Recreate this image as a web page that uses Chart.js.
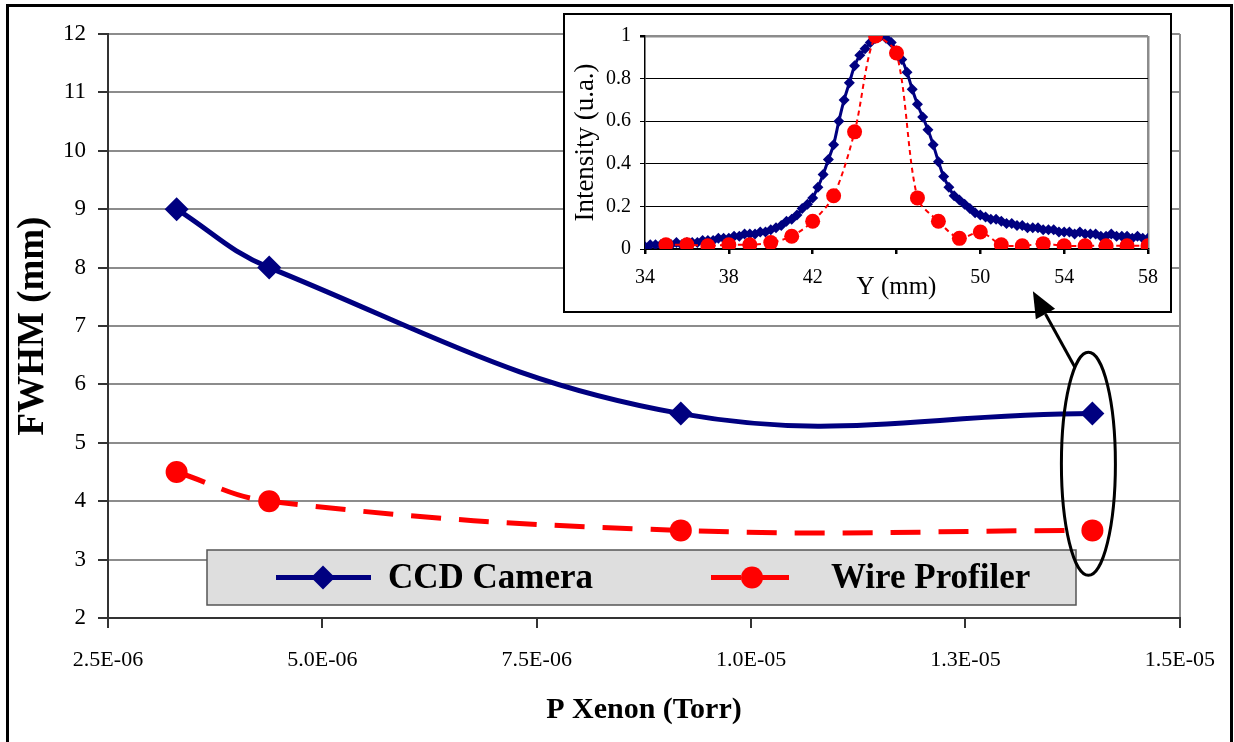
<!DOCTYPE html>
<html>
<head>
<meta charset="utf-8">
<script src="https://cdn.jsdelivr.net/npm/chart.js@4.4.1/dist/chart.umd.min.js"></script>
<style>
html, body { margin: 0; padding: 0; background: #fff; overflow: hidden; }
#wrap { position: relative; width: 1234px; height: 742px; }
#frame { position: absolute; left: 6px; top: 4px; width: 1227px; height: 760px; border: 3px solid #000; box-sizing: border-box; }
#main { position: absolute; left: 0; top: 0; }
#insetBox { position: absolute; left: 563px; top: 13px; width: 609px; height: 300px; border: 2px solid #000; background: #fff; box-sizing: border-box; }
#inset { position: absolute; left: 0; top: 0; }
#overlay { position: absolute; left: 0; top: 0; pointer-events: none; }
</style>
</head>
<body>
<div id="wrap">
  <div id="frame"></div>
  <canvas id="main" width="1234" height="742"></canvas>
  <div id="insetBox"><canvas id="inset" width="605" height="296"></canvas></div>
  <canvas id="overlay" width="1234" height="742"></canvas>
</div>
<script>
// main chart: FWHM vs xenon pressure
const pressure = [3.30e-6, 4.38e-6, 9.18e-6, 1.398e-5];
const ccdFwhm = [9.0, 8.0, 5.5, 5.5];
const wireFwhm = [4.5, 4.0, 3.5, 3.5];
const xTickValues = [2.5e-6, 5.0e-6, 7.5e-6, 1.0e-5, 1.25e-5, 1.5e-5];
const xTickLabels = ['2.5E-06', '5.0E-06', '7.5E-06', '1.0E-05', '1.3E-05', '1.5E-05'];
const yTickValues = [2, 3, 4, 5, 6, 7, 8, 9, 10, 11, 12];

// inset: beam profiles
const profCcdX = [34, 34.25, 34.5, 34.75, 35, 35.25, 35.5, 35.75, 36, 36.25, 36.5, 36.75,
  37, 37.25, 37.5, 37.75, 38, 38.25, 38.5, 38.75, 39, 39.25, 39.5, 39.75,
  40, 40.25, 40.5, 40.75, 41, 41.25, 41.5, 41.75, 42, 42.25, 42.5, 42.75,
  43, 43.25, 43.5, 43.75, 44, 44.25, 44.5, 44.75, 45, 45.25, 45.5, 45.75,
  46, 46.25, 46.5, 46.75, 47, 47.25, 47.5, 47.75, 48, 48.25, 48.5, 48.75,
  49, 49.25, 49.5, 49.75, 50, 50.25, 50.5, 50.75, 51, 51.25, 51.5, 51.75,
  52, 52.25, 52.5, 52.75, 53, 53.25, 53.5, 53.75, 54, 54.25, 54.5, 54.75,
  55, 55.25, 55.5, 55.75, 56, 56.25, 56.5, 56.75, 57, 57.25, 57.5, 57.75, 58];
const profCcdY = [0.01, 0.02, 0.02, 0.02, 0.02, 0.02, 0.03, 0.02, 0.03, 0.03, 0.03, 0.04,
  0.04, 0.04, 0.05, 0.05, 0.05, 0.06, 0.06, 0.07, 0.07, 0.07, 0.08, 0.08,
  0.09, 0.10, 0.11, 0.13, 0.14, 0.16, 0.19, 0.21, 0.24, 0.29, 0.35, 0.42,
  0.49, 0.60, 0.70, 0.78, 0.86, 0.91, 0.94, 0.97, 0.99, 1.00, 0.99, 0.97,
  0.93, 0.89, 0.83, 0.75, 0.68, 0.62, 0.56, 0.49, 0.41, 0.34, 0.29, 0.25,
  0.23, 0.21, 0.19, 0.17, 0.16, 0.15, 0.14, 0.14, 0.13, 0.12, 0.12, 0.11,
  0.11, 0.10, 0.10, 0.10, 0.09, 0.09, 0.09, 0.08, 0.08, 0.08, 0.07, 0.08,
  0.07, 0.07, 0.07, 0.06, 0.06, 0.07, 0.06, 0.06, 0.06, 0.05, 0.06, 0.05, 0.05];
const profWireX = [35, 36, 37, 38, 39, 40, 41, 42, 43, 44, 45, 46, 47, 48, 49, 50, 51, 52, 53, 54, 55, 56, 57, 58];
const profWireY = [0.02, 0.02, 0.015, 0.02, 0.02, 0.03, 0.06, 0.13, 0.25, 0.55, 1.0, 0.92,
  0.24, 0.13, 0.05, 0.08, 0.02, 0.015, 0.025, 0.015, 0.015, 0.015, 0.015, 0.015];
const insetXTicks = [34, 38, 42, 46, 50, 54, 58];
const insetXLabels = ['34', '38', '42', '', '50', '54', '58'];
const insetYTicks = [0, 0.2, 0.4, 0.6, 0.8, 1];
const insetYLabels = ['0', '0.2', '0.4', '0.6', '0.8', '1'];

const serif = "'Liberation Serif', 'Times New Roman', serif";
const NAVY = '#000080';
const RED = '#ff0000';
const GRID_GRAY = '#8c8c8c';

const toPts = (xs, ys) => xs.map((x, i) => ({ x: x, y: ys[i] }));

// inset chart first
new Chart(document.getElementById('inset'), {
    type: 'line',
    data: {
        datasets: [{
            data: toPts(profWireX, profWireY),
            borderColor: RED,
            backgroundColor: RED,
            borderWidth: 2,
            borderDash: [5, 4],
            pointStyle: 'circle',
            pointRadius: 7.5,
            pointBorderWidth: 0,
            tension: 0.3,
            order: 1
        }, {
            data: toPts(profCcdX, profCcdY),
            borderColor: NAVY,
            backgroundColor: NAVY,
            borderWidth: 3,
            pointStyle: 'rectRot',
            pointRadius: 5.5,
            pointBorderWidth: 0,
            tension: 0.3,
            order: 2
        }]
    },
    options: {
        responsive: false,
        animation: false,
        layout: { padding: { left: 0, top: 21, right: 15, bottom: 0 } },
        plugins: { legend: { display: false }, tooltip: { enabled: false } },
        scales: {
            x: {
                type: 'linear', min: 34, max: 58,
                afterBuildTicks: s => { s.ticks = insetXTicks.map(v => ({ value: v })); },
                afterFit: s => { s.height = 62; },
                ticks: {
                    callback: (v, i) => insetXLabels[i],
                    color: '#000', font: { family: serif, size: 20 }, padding: 12,
                    maxRotation: 0, autoSkip: false
                },
                grid: {
                    color: c => c.index === insetXTicks.length - 1 ? GRID_GRAY : 'rgba(0,0,0,0)',
                    lineWidth: 2.5, tickLength: 5, tickColor: '#000'
                },
                border: { color: '#000', width: 1.5 },
                title: {
                    display: true, text: 'Y (mm)', color: '#000',
                    font: { family: serif, size: 25 }, padding: { top: 0, bottom: 9 }
                }
            },
            y: {
                min: 0, max: 1,
                afterBuildTicks: s => { s.ticks = insetYTicks.map(v => ({ value: v })); },
                afterFit: s => { s.width = 80; },
                ticks: {
                    callback: (v, i) => insetYLabels[i],
                    color: '#000', font: { family: serif, size: 20 }, padding: 9
                },
                grid: {
                    color: c => c.index === insetYTicks.length - 1 ? GRID_GRAY : '#000',
                    lineWidth: c => c.index === insetYTicks.length - 1 ? 2.5 : 1,
                    tickLength: 5, tickColor: '#000'
                },
                border: { color: '#000', width: 1.5 },
                title: {
                    display: true, text: 'Intensity (u.a.)', color: '#000',
                    font: { family: serif, size: 27 }, padding: { top: 5, bottom: 0 }
                }
            }
        }
    }
});

// legend box sitting inside the plot
const legendBox = { x: 207, y: 550, w: 869, h: 55 };
const legendItems = [
    { text: 'CCD Camera', x0: 276, x1: 371, mark: 323, tx: 388 },
    { text: 'Wire Profiler', x0: 711, x1: 789, mark: 752, tx: 831 }
];

const boxLegend = {
    id: 'boxLegend',
    afterDraw(chart) {
        const ctx = chart.ctx;
        const b = legendBox;
        ctx.save();
        ctx.fillStyle = '#dedede';
        ctx.fillRect(b.x, b.y, b.w, b.h);
        ctx.strokeStyle = '#555';
        ctx.lineWidth = 1.5;
        ctx.strokeRect(b.x, b.y, b.w, b.h);
        const cy = b.y + b.h / 2;
        chart.data.datasets.forEach((ds, i) => {
            const it = legendItems[i];
            ctx.save();
            ctx.strokeStyle = ds.borderColor;
            ctx.lineWidth = ds.borderWidth;
            ctx.setLineDash(ds.borderDash || []);
            ctx.beginPath();
            ctx.moveTo(it.x0, cy);
            ctx.lineTo(it.x1, cy);
            ctx.stroke();
            ctx.restore();
            ctx.fillStyle = ds.backgroundColor;
            Chart.helpers.drawPoint(ctx, {
                pointStyle: ds.pointStyle, radius: ds.pointRadius, rotation: 0, borderWidth: 0
            }, it.mark, cy);
            ctx.fillStyle = '#000';
            ctx.font = 'bold 35px ' + serif;
            ctx.textBaseline = 'middle';
            ctx.textAlign = 'left';
            ctx.fillText(it.text, it.tx, cy + 1);
        });
        ctx.restore();
    }
};

// ellipse round the last points and arrow to the inset
const annot = {
    id: 'annot',
    afterDraw(chart) {
        const ctx = document.getElementById('overlay').getContext('2d');
        ctx.clearRect(0, 0, 1234, 742);
        const xs = chart.scales.x, ys = chart.scales.y;
        const cx = xs.getPixelForValue(pressure[pressure.length - 1]) - 4;
        const top = ys.getPixelForValue(6.55), bot = ys.getPixelForValue(2.73);
        const cy = (top + bot) / 2, ry = (bot - top) / 2, rx = 27;
        ctx.strokeStyle = '#000';
        ctx.fillStyle = '#000';
        ctx.lineWidth = 3;
        ctx.beginPath();
        ctx.ellipse(cx, cy, rx, ry, 0, 0, Math.PI * 2);
        ctx.stroke();

        const t = 240 * Math.PI / 180;
        const tx = cx + rx * Math.cos(t), ty = cy + ry * Math.sin(t);
        const hx = tx - 42, hy = ty - 76;
        const ang = Math.atan2(hy - ty, hx - tx);
        const len = 26, half = 11;
        const bx = hx - len * Math.cos(ang), by = hy - len * Math.sin(ang);
        ctx.beginPath();
        ctx.moveTo(tx, ty);
        ctx.lineTo(bx, by);
        ctx.stroke();
        ctx.beginPath();
        ctx.moveTo(hx, hy);
        ctx.lineTo(bx + half * Math.sin(ang), by - half * Math.cos(ang));
        ctx.lineTo(bx - half * Math.sin(ang), by + half * Math.cos(ang));
        ctx.closePath();
        ctx.fill();
    }
};

new Chart(document.getElementById('main'), {
    type: 'line',
    data: {
        datasets: [{
            label: 'CCD Camera',
            data: toPts(pressure, ccdFwhm),
            borderColor: NAVY,
            backgroundColor: NAVY,
            borderWidth: 5,
            pointStyle: 'rectRot',
            pointRadius: 12,
            pointBorderWidth: 0,
            tension: 0.4,
            order: 2
        }, {
            label: 'Wire Profiler',
            data: toPts(pressure, wireFwhm),
            borderColor: RED,
            backgroundColor: RED,
            borderWidth: 5,
            borderDash: [30, 18],
            pointStyle: 'circle',
            pointRadius: 11,
            pointBorderWidth: 0,
            tension: 0.4,
            order: 1
        }]
    },
    options: {
        responsive: false,
        animation: false,
        layout: { padding: { left: 0, top: 34, right: 46, bottom: 0 } },
        plugins: { legend: { display: false }, tooltip: { enabled: false } },
        scales: {
            x: {
                type: 'linear', min: 2.5e-6, max: 1.5e-5,
                afterBuildTicks: s => { s.ticks = xTickValues.map(v => ({ value: v })); },
                afterFit: s => { s.height = 124; },
                ticks: {
                    callback: (v, i) => xTickLabels[i],
                    color: '#000', font: { family: serif, size: 22 }, padding: 19,
                    maxRotation: 0, autoSkip: false
                },
                grid: {
                    color: c => c.index === xTickValues.length - 1 ? GRID_GRAY : 'rgba(0,0,0,0)',
                    lineWidth: 2, tickLength: 10, tickColor: '#333'
                },
                border: { color: '#333', width: 2 },
                title: {
                    display: true, text: 'P Xenon (Torr)', color: '#000',
                    font: { family: serif, size: 30, weight: 'bold' }, padding: { top: 0, bottom: 14 }
                }
            },
            y: {
                min: 2, max: 12,
                afterBuildTicks: s => { s.ticks = yTickValues.map(v => ({ value: v })); },
                afterFit: s => { s.width = 108; },
                ticks: { color: '#000', font: { family: serif, size: 23 }, padding: 12 },
                grid: { color: GRID_GRAY, lineWidth: 2, tickLength: 10, tickColor: '#333' },
                border: { color: '#333', width: 2 },
                title: {
                    display: true, text: 'FWHM (mm)', color: '#000',
                    font: { family: serif, size: 37, weight: 'bold' }, padding: { top: 11, bottom: 0 }
                }
            }
        }
    },
    plugins: [boxLegend, annot]
});
</script>
</body>
</html>
